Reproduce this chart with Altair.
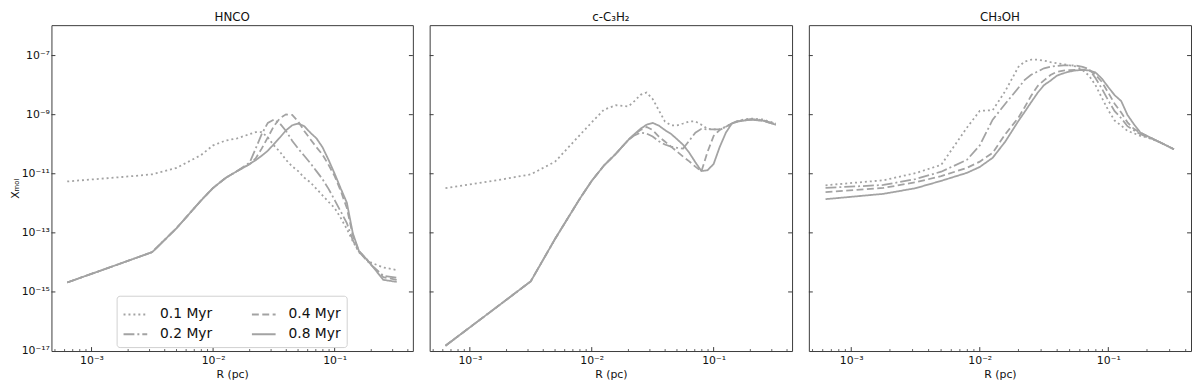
import altair as alt
import pandas as pd

# radius grid (pc)
R_PC = [6.31e-4, 1.78e-3, 3.16e-3, 5.01e-3, 7.94e-3, 1.00e-2, 1.26e-2, 1.58e-2, 2.00e-2, 2.24e-2,
        2.51e-2, 2.82e-2, 3.16e-2, 3.55e-2, 3.98e-2, 4.47e-2, 5.01e-2, 5.62e-2, 6.31e-2, 7.08e-2,
        7.94e-2, 8.91e-2, 1.00e-1, 1.12e-1, 1.26e-1, 1.41e-1, 1.58e-1, 1.78e-1, 2.00e-1, 2.51e-1, 3.24e-1]

AGES = ["0.1 Myr", "0.2 Myr", "0.4 Myr", "0.8 Myr"]

# log10 abundances
HNCO_01 = [-11.26, -11.11, -11.02, -10.80, -10.37, -10.04, -9.88, -9.80, -9.66, -9.59, -9.59, -9.77, -10.04,
           -10.26, -10.53, -10.75, -10.91, -11.13, -11.29, -11.51, -11.73, -11.95, -12.16, -12.49, -12.87,
           -13.28, -13.65, -13.85, -14.01, -14.17, -14.26]
HNCO_02 = [-14.68, -14.02, -13.65, -12.84, -11.91, -11.48, -11.15, -10.91, -10.62, -10.15, -9.66, -9.28, -9.17,
           -9.30, -9.55, -9.88, -10.15, -10.39, -10.64, -10.91, -11.18, -11.51, -11.89, -12.27, -12.67,
           -13.25, -13.63, -13.87, -14.09, -14.45, -14.52]
HNCO_04 = [-14.68, -14.02, -13.65, -12.84, -11.91, -11.48, -11.15, -10.91, -10.67, -10.48, -10.15, -9.77, -9.39,
           -9.12, -8.99, -9.01, -9.23, -9.55, -9.83, -10.10, -10.35, -10.70, -11.08, -11.57, -12.16,
           -13.09, -13.61, -13.85, -14.07, -14.50, -14.59]
HNCO_08 = [-14.68, -14.02, -13.65, -12.84, -11.91, -11.48, -11.15, -10.91, -10.67, -10.54, -10.39, -10.22, -10.00,
           -9.77, -9.53, -9.36, -9.30, -9.39, -9.61, -9.80, -10.10, -10.53, -11.00, -11.49, -11.98,
           -13.01, -13.60, -13.84, -14.08, -14.59, -14.66]

C3H2_01 = [-11.49, -11.20, -11.02, -10.59, -9.70, -9.26, -8.83, -8.68, -8.72, -8.54, -8.33, -8.25, -8.47,
           -8.85, -9.23, -9.36, -9.36, -9.30, -9.23, -9.23, -9.34, -9.48, -9.50, -9.50, -9.41,
           -9.30, -9.22, -9.16, -9.13, -9.16, -9.30]
C3H2_02 = [-16.82, -15.42, -14.64, -13.20, -11.86, -11.24, -10.72, -10.32, -9.85, -9.70, -9.61, -9.64, -9.74,
           -9.90, -10.01, -10.08, -10.12, -10.15, -9.88, -9.61, -9.48, -9.50, -9.50, -9.50, -9.41,
           -9.30, -9.21, -9.18, -9.15, -9.18, -9.32]
C3H2_04 = [-16.82, -15.42, -14.64, -13.20, -11.86, -11.24, -10.72, -10.32, -9.85, -9.66, -9.52, -9.42, -9.52,
           -9.74, -9.91, -10.08, -10.25, -10.42, -10.58, -10.76, -10.92, -10.26, -9.72, -9.52, -9.41,
           -9.30, -9.23, -9.20, -9.17, -9.20, -9.34]
C3H2_08 = [-16.82, -15.42, -14.64, -13.20, -11.86, -11.24, -10.72, -10.32, -9.85, -9.66, -9.48, -9.34, -9.28,
           -9.37, -9.52, -9.65, -9.83, -10.02, -10.29, -10.61, -10.91, -10.88, -10.67, -10.10, -9.61,
           -9.30, -9.23, -9.20, -9.17, -9.20, -9.34]

CH3OH_01 = [-11.39, -11.22, -10.98, -10.70, -9.44, -8.87, -8.85, -8.20, -7.38, -7.20, -7.14, -7.14, -7.17,
            -7.22, -7.26, -7.29, -7.33, -7.37, -7.49, -7.68, -8.00, -8.43, -8.85, -9.20, -9.37,
            -9.55, -9.63, -9.72, -9.77, -9.93, -10.17]
CH3OH_02 = [-11.48, -11.38, -11.18, -10.93, -10.53, -10.04, -9.17, -8.63, -8.09, -7.82, -7.65, -7.54, -7.43,
            -7.38, -7.35, -7.33, -7.33, -7.34, -7.38, -7.46, -7.76, -8.12, -8.52, -8.88, -9.12,
            -9.39, -9.53, -9.66, -9.75, -9.93, -10.17]
CH3OH_04 = [-11.62, -11.48, -11.29, -11.08, -10.80, -10.59, -10.29, -9.66, -9.10, -8.74, -8.36, -8.03, -7.84,
            -7.66, -7.55, -7.51, -7.49, -7.48, -7.48, -7.49, -7.65, -7.89, -8.26, -8.63, -8.93,
            -9.26, -9.48, -9.61, -9.72, -9.93, -10.17]
CH3OH_08 = [-11.86, -11.68, -11.49, -11.24, -10.97, -10.77, -10.46, -9.91, -9.21, -8.90, -8.58, -8.26, -8.00,
            -7.85, -7.68, -7.60, -7.54, -7.50, -7.49, -7.50, -7.57, -7.78, -8.07, -8.34, -8.54,
            -9.01, -9.32, -9.61, -9.72, -9.93, -10.17]

TITLES = ["HNCO", "c-C₃H₂", "CH₃OH"]
Y_TICKS = [1e-15, 1e-13, 1e-11, 1e-9, 1e-7]
Y_EXP = [-17, -15, -13, -11, -9, -7]
Y_LABELS = ["10⁻¹⁷", "10⁻¹⁵", "10⁻¹³", "10⁻¹¹", "10⁻⁹", "10⁻⁷"]
X_TICKS = [1e-3, 1e-2, 1e-1]
X_EXP = [-3, -2, -1]
X_LABELS = ["10⁻³", "10⁻²", "10⁻¹"]
X_MINOR = [5e-4, 6e-4, 7e-4, 8e-4, 9e-4, 2e-3, 3e-3, 4e-3, 5e-3, 6e-3, 7e-3, 8e-3, 9e-3,
           2e-2, 3e-2, 4e-2, 5e-2, 6e-2, 7e-2, 8e-2, 9e-2, 2e-1, 3e-1, 4e-1]

X_DOMAIN = [4.68e-4, 0.44]
Y_DOMAIN = [1e-17, 1.07e-6]

GRAY = "#a3a3a3"
FRAME = "#3a3a3a"
LEGEND_ORDER = ["0.1 Myr", "0.2 Myr", "0.4 Myr", "0.8 Myr"]
DASHES = [[2, 3], [11, 3, 2, 3], [7, 3.5], [1, 0]]
H = 330


def label_expr(exps, labels):
    expr = "''"
    for e, lab in zip(exps, labels):
        expr = f"round(log(datum.value)/LN10) == {e} ? '{lab}' : ({expr})"
    return expr


def panel(title, series, width, first):
    rows = []
    for age, vals in zip(AGES, series):
        for r, v in zip(R_PC, vals):
            rows.append({"R": r, "X": 10 ** v, "age": age})
    df = pd.DataFrame(rows)

    xs = alt.Scale(type="log", domain=X_DOMAIN, nice=False)
    ys = alt.Scale(type="log", domain=Y_DOMAIN, nice=False)
    x_enc = alt.X("R:Q", scale=xs,
                  axis=alt.Axis(values=X_TICKS, labelExpr=label_expr(X_EXP, X_LABELS), title="R (pc)",
                                ticks=False, domain=False, grid=False, labelFontSize=11, titleFontSize=11,
                                titleFontWeight="normal", labelPadding=4, titlePadding=3))
    if first:
        y_enc = alt.Y("X:Q", scale=ys,
                      axis=alt.Axis(values=[1e-17] + Y_TICKS, labelExpr=label_expr(Y_EXP, Y_LABELS),
                                    title="Xₘₒₗ", ticks=False, domain=False, grid=False,
                                    labelFontSize=11, titleFontSize=11, titleFontWeight="normal",
                                    labelPadding=2, titlePadding=1))
        legend = alt.Legend(title=None, orient="none", legendX=66, legendY=H - 56, columns=2,
                            symbolType="stroke", symbolSize=576, symbolStrokeWidth=1.8,
                            symbolStrokeColor=GRAY, labelFontSize=14, labelColor="#111",
                            strokeColor="#d0d0d0", fillColor="white", padding=6, cornerRadius=3,
                            columnPadding=36, rowPadding=0, labelOffset=12)
    else:
        y_enc = alt.Y("X:Q", scale=ys, axis=None)
        legend = None

    lines = alt.Chart(df).mark_line(color=GRAY, strokeWidth=1.8).encode(
        x=x_enc, y=y_enc,
        strokeDash=alt.StrokeDash("age:N", scale=alt.Scale(domain=LEGEND_ORDER, range=DASHES), legend=legend),
    )
    yt = pd.DataFrame({"X": Y_TICKS})
    xt = pd.DataFrame({"R": X_TICKS})
    xm = pd.DataFrame({"R": X_MINOR})
    tl = alt.Chart(yt).mark_rule(color=FRAME, strokeWidth=1).encode(y=y_enc, x=alt.value(0), x2=alt.value(4))
    tr = alt.Chart(yt).mark_rule(color=FRAME, strokeWidth=1).encode(y=y_enc, x=alt.value(width - 4), x2=alt.value(width))
    tb = alt.Chart(xt).mark_rule(color=FRAME, strokeWidth=1).encode(x=x_enc, y=alt.value(H - 4), y2=alt.value(H))
    tm = alt.Chart(xm).mark_rule(color=FRAME, strokeWidth=0.8).encode(x=x_enc, y=alt.value(H - 2), y2=alt.value(H))
    return alt.layer(lines, tl, tr, tb, tm).properties(
        width=width, height=H,
        title=alt.TitleParams(title, fontSize=12, fontWeight="normal", offset=1, color="#111"),
    )


p1 = panel(TITLES[0], [HNCO_01, HNCO_02, HNCO_04, HNCO_08], 366, True)
p2 = panel(TITLES[1], [C3H2_01, C3H2_02, C3H2_04, C3H2_08], 367, False)
p3 = panel(TITLES[2], [CH3OH_01, CH3OH_02, CH3OH_04, CH3OH_08], 387, False)

chart = alt.hconcat(p1, p2, p3, spacing=15).resolve_scale(strokeDash="independent").resolve_legend(
    strokeDash="independent"
).properties(padding={"left": 0, "top": 0, "right": 0, "bottom": 0}).configure(
    font="DejaVu Sans"
).configure_view(stroke=FRAME, strokeWidth=1).configure_axis(labelColor="#111", titleColor="#111")

chart.save("out.html", embed_options={"renderer": "svg", "actions": False})
